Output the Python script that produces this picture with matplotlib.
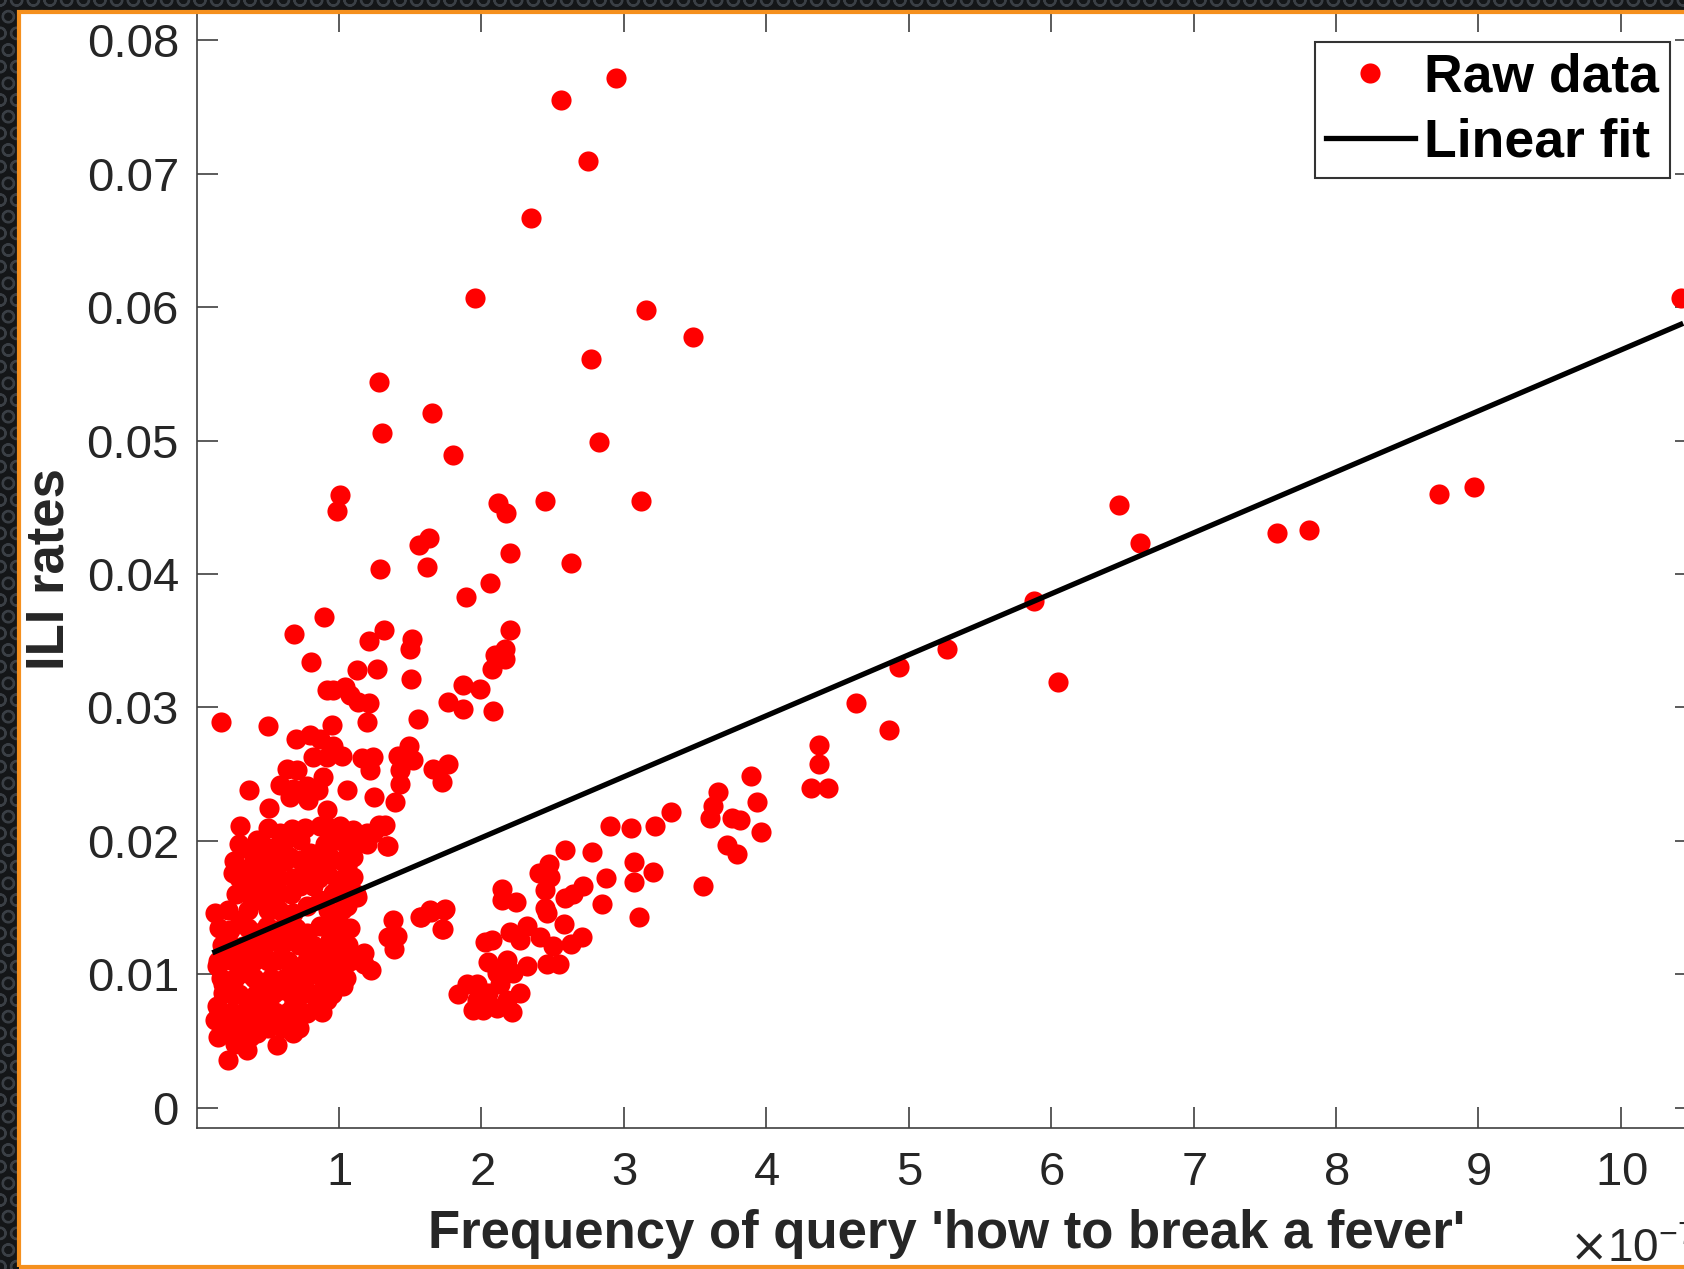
import numpy as np
import matplotlib.pyplot as plt
from matplotlib.patches import Rectangle
from matplotlib.ticker import ScalarFormatter, FuncFormatter
from matplotlib.transforms import ScaledTranslation

plt.rcParams['font.family'] = ['Liberation Sans', 'DejaVu Sans']
plt.rcParams['hatch.linewidth'] = 1.5

# frequency of the query (in units of 1e-7) and ILI rate, one pair per week
# high scattered weeks
freq_high = [2.944, 2.560, 2.750, 2.350, 1.955, 3.158, 3.484, 2.769, 1.278, 1.651,
             1.304, 2.828, 1.801, 1.004, 0.985, 2.113, 2.172, 2.449, 3.121, 1.630,
             1.560, 2.204, 1.289, 1.616, 2.629, 2.060, 1.893, 0.894, 0.684, 1.315,
             1.213, 1.512, 1.496, 2.200, 2.167, 2.095, 2.162, 2.073, 0.805, 1.125,
             1.264, 1.504, 0.918, 0.958, 1.044, 1.079, 1.135, 1.213, 0.950, 1.200,
             1.552, 1.764, 1.872, 1.874, 1.988, 2.079, 0.168, 0.498, 0.698, 0.797,
             0.864, 1.488]
ili_high = [0.0772, 0.0755, 0.0710, 0.0667, 0.0607, 0.0598, 0.0578, 0.0561, 0.0544, 0.0521,
            0.0506, 0.0499, 0.0489, 0.0459, 0.0447, 0.0453, 0.0446, 0.0455, 0.0455, 0.0427,
            0.0422, 0.0416, 0.0404, 0.0405, 0.0408, 0.0393, 0.0383, 0.0368, 0.0355, 0.0358,
            0.0350, 0.0351, 0.0344, 0.0358, 0.0344, 0.0339, 0.0336, 0.0329, 0.0334, 0.0328,
            0.0329, 0.0321, 0.0313, 0.0313, 0.0315, 0.0309, 0.0304, 0.0303, 0.0287, 0.0289,
            0.0291, 0.0304, 0.0299, 0.0317, 0.0314, 0.0297, 0.0289, 0.0286, 0.0276, 0.0279,
            0.0276, 0.0271]

# dense cluster at low frequency
freq_low = [0.960, 1.023, 0.819, 0.913, 1.159, 1.236, 1.217, 1.416, 1.521, 1.428,
            1.428, 1.393, 1.662, 1.767, 1.721, 0.633, 0.703, 0.890, 0.586, 0.679,
            0.773, 0.854, 0.370, 0.508, 0.656, 0.784, 0.913, 1.058, 1.248, 0.305,
            0.422, 0.363, 0.258, 0.328, 0.445, 0.668, 0.562, 0.609, 0.656, 0.562,
            0.866, 0.796, 0.890, 1.007, 1.100, 1.194, 1.323, 1.241, 1.335, 1.147,
            1.054, 1.100, 1.054, 1.100, 1.124, 1.054, 0.984, 1.030, 0.937, 1.030,
            0.984, 1.030, 0.913, 0.128, 0.234, 0.141, 0.187, 0.141, 0.128, 0.152,
            0.270, 0.223, 0.375, 0.562, 0.679, 0.773, 0.913, 0.796, 0.679, 0.468,
            0.281, 0.187, 0.352, 0.492, 0.586, 0.234, 0.352, 0.468, 0.586, 0.703,
            0.819, 0.328, 0.445, 0.562, 0.679, 0.773, 0.866, 0.422, 0.539, 0.656,
            0.773, 0.866, 0.305, 0.492, 0.679, 0.773, 0.866, 0.960, 0.819, 0.726,
            0.586, 0.445, 0.352, 0.445, 0.913, 0.984, 0.773, 0.492, 0.937, 0.726,
            0.984, 0.515, 0.586, 0.726, 0.984, 0.843, 0.656, 0.422, 0.352, 1.342,
            1.278, 1.310, 1.380, 1.345, 1.408, 1.388, 1.175, 1.175, 1.227, 1.575,
            1.643, 1.737, 1.726]
ili_low = [0.0271, 0.0264, 0.0263, 0.0263, 0.0262, 0.0263, 0.0253, 0.0264, 0.0261, 0.0253,
           0.0243, 0.0229, 0.0254, 0.0258, 0.0244, 0.0254, 0.0253, 0.0248, 0.0242, 0.0239,
           0.0241, 0.0238, 0.0238, 0.0225, 0.0233, 0.0231, 0.0223, 0.0238, 0.0233, 0.0211,
           0.0201, 0.0194, 0.0176, 0.0179, 0.0182, 0.0209, 0.0196, 0.0198, 0.0188, 0.0183,
           0.0211, 0.0191, 0.0193, 0.0211, 0.0208, 0.0206, 0.0212, 0.0206, 0.0196, 0.0201,
           0.0196, 0.0188, 0.0181, 0.0173, 0.0158, 0.0151, 0.0141, 0.0133, 0.0126, 0.0116,
           0.0106, 0.0091, 0.0101, 0.0146, 0.0133, 0.0106, 0.0093, 0.0076, 0.0066, 0.0053,
           0.0048, 0.0036, 0.0053, 0.0047, 0.0056, 0.0071, 0.0081, 0.0086, 0.0076, 0.0063,
           0.0068, 0.0086, 0.0081, 0.0081, 0.0068, 0.0111, 0.0101, 0.0093, 0.0088, 0.0093,
           0.0101, 0.0121, 0.0116, 0.0111, 0.0106, 0.0111, 0.0116, 0.0131, 0.0133, 0.0126,
           0.0131, 0.0136, 0.0141, 0.0136, 0.0146, 0.0151, 0.0156, 0.0161, 0.0166, 0.0166,
           0.0161, 0.0156, 0.0161, 0.0166, 0.0176, 0.0171, 0.0176, 0.0173, 0.0188, 0.0186,
           0.0201, 0.0191, 0.0206, 0.0201, 0.0091, 0.0076, 0.0066, 0.0056, 0.0043, 0.0196,
           0.0212, 0.0211, 0.0141, 0.0128, 0.0129, 0.0119, 0.0116, 0.0108, 0.0103, 0.0143,
           0.0147, 0.0148, 0.0134]

# more weeks hidden inside the solid part of the low cluster
freq_core = [0.20, 0.30, 0.40, 0.50, 0.60, 0.72,
             0.16, 0.25, 0.35, 0.45, 0.55, 0.64, 0.74, 0.88,
             0.24, 0.30, 0.42, 0.54, 0.66, 0.74, 0.86, 0.95,
             0.17, 0.27, 0.40, 0.52, 0.62, 0.76, 0.88, 1.05,
             0.15, 0.29, 0.40, 0.50, 0.64, 0.83, 0.95, 1.08,
             0.18, 0.24, 0.38, 0.48, 0.60, 0.72, 0.82, 0.92, 1.06,
             0.16, 0.36, 0.60, 0.70, 0.94, 1.08,
             0.22, 0.36, 0.50, 0.58, 0.92, 1.02,
             0.28, 0.52, 0.66, 1.04, 1.12,
             0.30, 0.40, 0.58, 0.68, 0.86, 1.04,
             0.26, 0.40, 0.62, 0.86, 1.02,
             0.30, 0.46, 0.90, 1.20,
             0.50, 0.76, 0.94]
ili_core = [0.0060, 0.0060, 0.0060, 0.0060, 0.0060, 0.0060,
            0.0072, 0.0072, 0.0072, 0.0072, 0.0072, 0.0072, 0.0072, 0.0072,
            0.0085, 0.0085, 0.0085, 0.0085, 0.0085, 0.0085, 0.0085, 0.0085,
            0.0097, 0.0097, 0.0097, 0.0097, 0.0097, 0.0097, 0.0097, 0.0097,
            0.0110, 0.0110, 0.0110, 0.0110, 0.0110, 0.0110, 0.0110, 0.0110,
            0.0122, 0.0122, 0.0122, 0.0122, 0.0122, 0.0122, 0.0122, 0.0122, 0.0122,
            0.0135, 0.0135, 0.0135, 0.0135, 0.0135, 0.0135,
            0.0148, 0.0148, 0.0148, 0.0148, 0.0148, 0.0148,
            0.0160, 0.0160, 0.0160, 0.0160, 0.0160,
            0.0172, 0.0172, 0.0172, 0.0172, 0.0172, 0.0172,
            0.0185, 0.0185, 0.0185, 0.0185, 0.0185,
            0.0198, 0.0198, 0.0198, 0.0198,
            0.0210, 0.0210, 0.0210]

# second cluster around 2-4
freq_mid = [2.902, 3.052, 3.216, 3.328, 3.604, 3.625, 3.757, 3.815, 3.960, 3.932,
            3.726, 3.796, 3.553, 2.589, 2.776, 3.073, 3.206, 3.073, 2.872, 3.108,
            2.846, 2.472, 2.402, 2.479, 2.448, 2.711, 2.645, 2.586, 2.142, 2.142,
            2.242, 2.446, 2.458, 2.581, 2.704, 2.626, 2.317, 2.200, 2.072, 2.025,
            2.270, 2.411, 2.504, 2.546, 2.458, 2.317, 2.177, 2.048, 2.107, 2.223,
            2.130, 1.966, 1.896, 1.838, 2.048, 2.270, 1.943, 2.013, 2.107, 2.212,
            1.966, 2.177, 1.568, 1.638, 1.744, 1.728, 3.890, 3.664]
ili_mid = [0.0211, 0.0210, 0.0211, 0.0222, 0.0217, 0.0226, 0.0217, 0.0216, 0.0207, 0.0229,
           0.0197, 0.0190, 0.0166, 0.0193, 0.0192, 0.0184, 0.0177, 0.0169, 0.0172, 0.0143,
           0.0153, 0.0183, 0.0176, 0.0173, 0.0163, 0.0166, 0.0160, 0.0157, 0.0164, 0.0156,
           0.0154, 0.0150, 0.0146, 0.0138, 0.0128, 0.0123, 0.0136, 0.0132, 0.0126, 0.0124,
           0.0126, 0.0128, 0.0121, 0.0108, 0.0108, 0.0106, 0.0111, 0.0109, 0.0101, 0.0101,
           0.0093, 0.0093, 0.0093, 0.0085, 0.0086, 0.0086, 0.0073, 0.0073, 0.0075, 0.0072,
           0.0081, 0.0081, 0.0143, 0.0148, 0.0149, 0.0134, 0.0249, 0.0237]

# sparse weeks at high frequency
freq_right = [10.42, 8.972, 8.723, 7.811, 7.585, 6.476, 6.627, 5.881, 6.047, 5.270,
              4.930, 4.629, 4.863, 4.372, 4.372, 4.312, 4.433]
ili_right = [0.0607, 0.0465, 0.0460, 0.0433, 0.0431, 0.0452, 0.0423, 0.0380, 0.0319, 0.0344,
             0.0330, 0.0303, 0.0283, 0.0272, 0.0258, 0.0240, 0.0240]

# linear fit (frequency in units of 1e-7)
fit_slope = 0.00457
fit_intercept = 0.0111

x = np.array(freq_high + freq_low + freq_core + freq_mid + freq_right) * 1e-7
y = np.array(ili_high + ili_low + ili_core + ili_mid + ili_right)

W, H = 1684, 1269
fig = plt.figure(figsize=(W / 100, H / 100), dpi=100, facecolor='#141618')

# dark perforated backdrop and the orange framed white panel
fig.patches.append(Rectangle((0, 0), 1, 1, transform=fig.transFigure, facecolor='#141618',
                             edgecolor='#3a3f45', hatch='O', linewidth=0, zorder=-3))
fig.patches.append(Rectangle((18.5 / W, 2 / H), 1.2, 1 - 14 / H, transform=fig.transFigure,
                             facecolor='white', edgecolor='none', zorder=-2))
fig.patches.append(Rectangle((18.5 / W, 2 / H), 1.2, 1 - 14 / H, transform=fig.transFigure,
                             facecolor='none', edgecolor='#f5901e', linewidth=3, zorder=10))

ax = fig.add_axes([197 / W, 1 - 1127.7 / H, (1696.4 - 197) / W, (1127.7 - 11.1) / H])

ax.plot(x, y, 'o', color='#ff0000', ms=14.5, mew=0, label='Raw data')
xx = np.array([x.min(), x.max()])
ax.plot(xx, fit_intercept + fit_slope * xx * 1e7, color='black', lw=3.8, label='Linear fit')

ax.set_xlim(0.003e-7, 10.53e-7)
ax.set_ylim(-0.0015, 0.0822)
ax.set_xticks(np.arange(1, 11) * 1e-7)
ax.set_yticks(np.arange(0, 0.0801, 0.01))

fmt = ScalarFormatter(useMathText=True)
fmt.set_powerlimits((-7, -7))
ax.xaxis.set_major_formatter(fmt)
ax.yaxis.set_major_formatter(FuncFormatter(lambda v, _: '0' if abs(v) < 1e-9 else f'{v:.2f}'))

ax.tick_params(direction='in', length=15, width=1.2, color='#404040', top=True, right=True,
               labelsize=34, labelcolor='#262626')
ax.tick_params(axis='x', pad=17)
ax.tick_params(axis='y', pad=13)

ot = ax.xaxis.get_offset_text()
ot.set_fontsize(33)
ot.set_color('#262626')
ot.set_transform(ot.get_transform() + ScaledTranslation(0, -0.29, fig.dpi_scale_trans))

for s in ax.spines.values():
    s.set_color('#404040')
    s.set_linewidth(1.2)

ax.set_xlabel("Frequency of query 'how to break a fever'", fontsize=38, fontweight='bold',
              color='#262626', labelpad=10)
ax.set_ylabel('ILI rates', fontsize=38, fontweight='bold', color='#262626', labelpad=8.5)

leg = ax.legend(loc='upper right', bbox_to_anchor=(1670 / W, 1 - 42 / H), bbox_transform=fig.transFigure,
                borderaxespad=0, prop={'weight': 'bold', 'size': 38.5}, fancybox=False, framealpha=1,
                edgecolor='#333333', handlelength=1.66, handletextpad=0.18, labelspacing=0.28,
                borderpad=0.2)
leg.get_frame().set_linewidth(1.5)

fig.savefig('out.png', dpi=100)
